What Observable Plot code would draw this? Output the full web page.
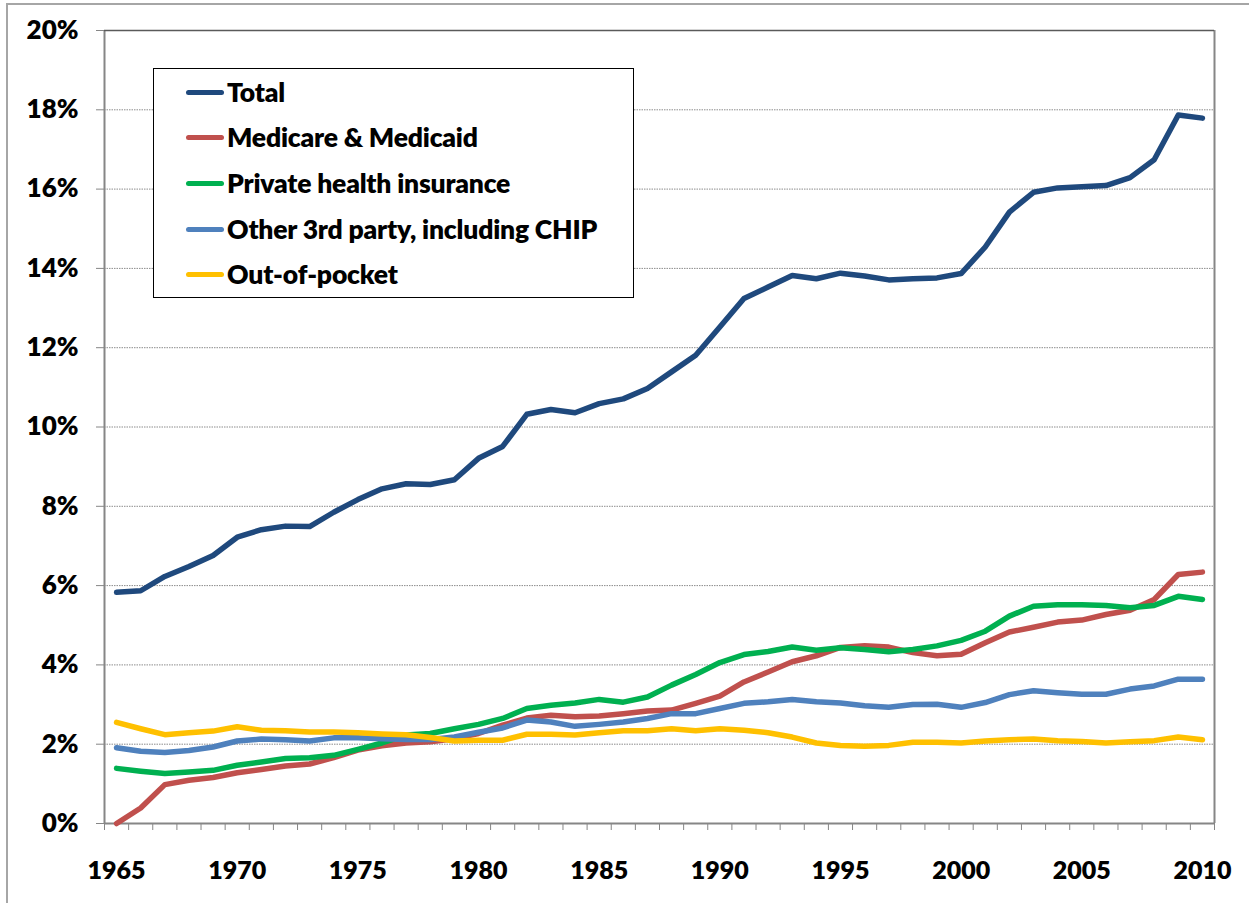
<!DOCTYPE html>
<html>
<head>
<meta charset="utf-8">
<script src="https://cdn.jsdelivr.net/npm/d3@7"></script>
<script src="https://cdn.jsdelivr.net/npm/@observablehq/plot@0.6"></script>
<style>
  html, body { margin: 0; padding: 0; background: #fff; }
  #wrap { position: relative; width: 1249px; height: 903px; overflow: hidden; font-family: Lato, "Open Sans", sans-serif; }
  #outer { position: absolute; left: 6px; top: 3px; width: 1300px; height: 1000px; border-top: 2px solid #a6a6a6; border-left: 2px solid #a6a6a6; pointer-events: none; }
  #legend { position: absolute; left: 153px; top: 68px; width: 481px; height: 230px; border: 1.5px solid #000; background: #fff; box-sizing: border-box; }
  .row { position: absolute; left: 0; height: 30px; display: flex; align-items: center; }
  .sw { display: inline-block; width: 38px; height: 5px; border-radius: 3px; margin-left: 32px; margin-right: 3px; }
  .lb { font-weight: 800; font-size: 26.5px; color: #000; white-space: nowrap; letter-spacing: -0.2px; }
</style>
</head>
<body>
<div id="wrap">
  <div id="chart"></div>
  <div id="outer"></div>
  <div id="legend"></div>
</div>
<script>
const years = [1965,1966,1967,1968,1969,1970,1971,1972,1973,1974,1975,1976,1977,1978,1979,1980,1981,1982,1983,1984,1985,1986,1987,1988,1989,1990,1991,1992,1993,1994,1995,1996,1997,1998,1999,2000,2001,2002,2003,2004,2005,2006,2007,2008,2009,2010];

const total = [5.83,5.87,6.23,6.48,6.76,7.22,7.41,7.50,7.49,7.85,
  8.17,8.44,8.57,8.55,8.67,9.21,9.51,10.32,10.44,10.36,
  10.59,10.71,10.97,11.39,11.81,12.52,13.24,13.53,13.82,13.74,
  13.88,13.81,13.71,13.74,13.76,13.87,14.54,15.42,15.92,16.03,
  16.06,16.09,16.29,16.74,17.87,17.79];
const medicare = [0.00,0.39,0.98,1.09,1.16,1.28,1.36,1.45,1.50,1.66,
  1.85,1.96,2.03,2.06,2.14,2.27,2.48,2.66,2.73,2.69,
  2.71,2.77,2.84,2.86,3.03,3.21,3.57,3.82,4.08,4.23,
  4.44,4.48,4.45,4.31,4.23,4.27,4.56,4.83,4.95,5.08,
  5.13,5.27,5.38,5.65,6.28,6.34];
const privateIns = [1.39,1.32,1.26,1.30,1.34,1.47,1.55,1.64,1.66,1.72,
  1.87,2.03,2.23,2.27,2.39,2.50,2.65,2.90,2.98,3.04,
  3.13,3.06,3.19,3.49,3.76,4.06,4.26,4.34,4.45,4.37,
  4.43,4.39,4.33,4.39,4.48,4.62,4.85,5.23,5.48,5.52,
  5.52,5.50,5.44,5.50,5.73,5.65];
const other3rd = [1.91,1.82,1.79,1.84,1.93,2.08,2.13,2.11,2.08,2.16,
  2.16,2.14,2.12,2.12,2.18,2.30,2.41,2.61,2.56,2.45,
  2.50,2.56,2.65,2.77,2.77,2.90,3.03,3.07,3.13,3.07,
  3.04,2.97,2.93,3.00,3.01,2.93,3.05,3.25,3.35,3.30,
  3.26,3.26,3.39,3.47,3.64,3.64];
const outOfPocket = [2.55,2.39,2.24,2.29,2.33,2.44,2.35,2.34,2.31,2.31,
  2.29,2.26,2.24,2.17,2.08,2.10,2.10,2.25,2.25,2.23,
  2.29,2.34,2.34,2.39,2.34,2.39,2.35,2.29,2.18,2.03,
  1.97,1.95,1.97,2.05,2.05,2.03,2.08,2.11,2.13,2.09,
  2.07,2.03,2.06,2.09,2.18,2.11];

const seriesNames = ["Total","Medicare & Medicaid","Private health insurance","Other 3rd party, including CHIP","Out-of-pocket"];
const seriesColors = ["#1F497D","#C0504D","#00B050","#4F81BD","#FFC000"];
const seriesValues = [total, medicare, privateIns, other3rd, outOfPocket];

const yTicks = [0,2,4,6,8,10,12,14,16,18,20];
const xTickLabels = [1965,1970,1975,1980,1985,1990,1995,2000,2005,2010];
const xBoundaries = [years[0] - 0.5, ...years.map(y => y + 0.5)];

const rows = [];
seriesNames.forEach((name, i) => {
  years.forEach((yr, j) => rows.push({series: name, year: yr, value: seriesValues[i][j]}));
});

const font = "Lato, 'Open Sans', sans-serif";

const chart = Plot.plot({
  width: 1249,
  height: 903,
  marginLeft: 104,
  marginRight: 35,
  marginTop: 30,
  marginBottom: 80,
  style: {fontFamily: font, background: "transparent", overflow: "visible"},
  x: {domain: [years[0] - 0.5, years[years.length - 1] + 0.5], axis: null},
  y: {domain: [0, 20], axis: null},
  color: {domain: seriesNames, range: seriesColors},
  marks: [
    Plot.gridY(yTicks.filter(t => t > 0 && t < 20), {stroke: "#8c8c8c", strokeOpacity: 1, strokeDasharray: "1.5,1", strokeWidth: 1}),
    Plot.axisY(yTicks, {label: null, tickSize: 8, tickPadding: 18, stroke: "#868686", tickFormat: d => d + "%", fontSize: 26, fontWeight: 800, fill: "#000"}),
    Plot.axisX(xTickLabels, {label: null, tickSize: 0, tickPadding: 38, tickFormat: d => String(d), fontSize: 25, fontWeight: 800, fill: "#000"}),
    Plot.axisX(xBoundaries, {label: null, tickSize: 7, stroke: "#868686", tickFormat: () => ""}),
    Plot.ruleX([years[0] - 0.5], {stroke: "#868686", strokeWidth: 2}),
    Plot.ruleX([years[years.length - 1] + 0.5], {stroke: "#868686", strokeWidth: 2}),
    Plot.ruleY([0], {stroke: "#868686", strokeWidth: 2}),
    Plot.ruleY([20], {stroke: "#5a5a5a", strokeWidth: 1.5}),
    Plot.line(rows, {x: "year", y: "value", z: "series", stroke: "series", strokeWidth: 5.5, strokeLinecap: "round", strokeLinejoin: "round"})
  ]
});
document.getElementById("chart").appendChild(chart);

const legend = document.getElementById("legend");
const rowCenters = [23, 68, 114, 160, 205];
seriesNames.forEach((name, i) => {
  const r = document.createElement("div");
  r.className = "row";
  r.style.top = (rowCenters[i] - 15) + "px";
  r.innerHTML = `<span class="sw" style="background:${seriesColors[i]}"></span><span class="lb">${name.replace("&", "&amp;")}</span>`;
  legend.appendChild(r);
});
</script>
</body>
</html>
